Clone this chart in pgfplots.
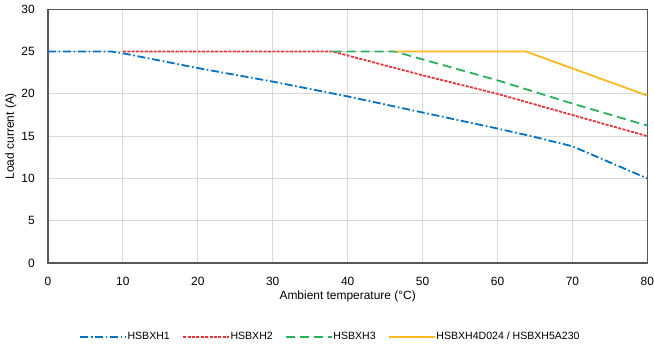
\documentclass[border=0pt]{standalone}
\usepackage{pgfplots}
\pgfplotsset{compat=1.18}
\usepackage{fontspec}
\setmainfont{Liberation Sans}

\definecolor{cH1}{RGB}{0,114,198}
\definecolor{cH2}{RGB}{237,50,55}
\definecolor{cH3}{RGB}{40,178,90}
\definecolor{cH4}{RGB}{255,183,30}
\definecolor{gridgray}{RGB}{217,217,217}

\begin{document}
\begin{tikzpicture}
\begin{axis}[
  scale only axis,
  width=600bp, height=254bp,
  xmin=0, xmax=80, ymin=0, ymax=30,
  xtick={0,10,...,80}, ytick={0,5,...,30},
  grid=major,
  major grid style={draw=gridgray, line width=0.9bp},
  major tick length=0pt,
  axis line style={draw=black!65, line width=1.1bp},
  /pgf/number format/assume math mode=true,
  tick label style={font=\fontsize{12}{14}\selectfont, inner sep=0pt},
  yticklabel style={xshift=-13bp},
  xticklabel style={yshift=-14bp},
  label style={font=\fontsize{12}{14}\selectfont},
  xlabel={Ambient temperature (°C)},
  ylabel={Load current (A)},
  xlabel style={at={(axis description cs:0.5,-0.13)}, anchor=center},
  ylabel style={at={(axis description cs:-0.062,0.5)}, anchor=center},
  legend columns=4,
  legend style={at={(0.47,-0.29)}, anchor=center, draw=none, fill=none,
    font=\fontsize{10.6}{13}\selectfont,
    /tikz/every odd column/.append style={column sep=0bp},
    /tikz/every even column/.append style={column sep=12bp},
    nodes={inner xsep=0.5bp}},
  legend image code/.code={\draw[#1] (0bp,0bp) -- (46bp,0bp);},
  every axis plot/.append style={line width=1.8bp},
]
% HSBXH1
\addplot[cH1, dash pattern=on 8bp off 2.7bp on 1.6bp off 2.7bp] coordinates {
  (0,25) (8.5,25) (10,24.8) (20,23.05) (30,21.45) (40,19.7)
  (50,17.8) (60,15.9) (65,14.9) (70,13.8) (80,10)};
\addlegendentry{HSBXH1}
% HSBXH2
\addplot[cH2, dash pattern=on 3bp off 1.4bp] coordinates {
  (10,25) (38,25) (50,22.2) (60,20) (70,17.5) (80,15)};
\addlegendentry{HSBXH2}
% HSBXH3
\addplot[cH3, dash pattern=on 9bp off 5bp] coordinates {
  (38,25) (46.3,25) (60,21.6) (70,18.85) (80,16.25)};
\addlegendentry{HSBXH3}
% HSBXH4D024 / HSBXH5A230
\addplot[cH4] coordinates {
  (46.5,25) (63.8,25) (80,19.8)};
\addlegendentry{HSBXH4D024 / HSBXH5A230}
\end{axis}
\path[use as bounding box] (-48bp,-87.7bp) rectangle (606bp,263.3bp);
\end{tikzpicture}
\end{document}
